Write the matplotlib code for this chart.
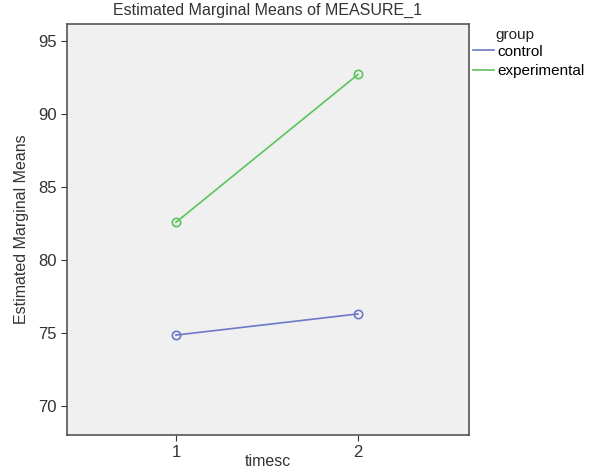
import matplotlib
matplotlib.use("Agg")
import matplotlib.pyplot as plt

plt.rcParams['font.family'] = ['Liberation Sans', 'DejaVu Sans']

times = [1, 2]
groups = ["control", "experimental"]
control = [74.85, 76.3]
experimental = [82.58, 92.72]
colors = ["#6b79c8", "#5cc45c"]
yticks = [70, 75, 80, 85, 90, 95]

fig = plt.figure(figsize=(5.97, 4.74), dpi=100)
ax = fig.add_axes([0.1117, 0.0823, 0.6739, 0.8677])
ax.set_facecolor("#f0f0f0")
for vals, c, name in zip([control, experimental], colors, groups):
    ax.plot(times, vals, color=c, lw=1.2, marker='o', markersize=6,
            markerfacecolor='none', markeredgecolor=c, markeredgewidth=1.2, label=name)
ax.set_xlim(0.40, 2.61)
ax.set_ylim(68.0, 96.2)
ax.set_xticks(times)
ax.set_yticks(yticks)
ax.tick_params(labelsize=12, colors="#333333", length=4, direction='out', pad=3)
for s in ax.spines.values():
    s.set_color("#555555")
    s.set_linewidth(1.2)
fig.text(0.4489, 0.026, "timesc", ha='center', va='center', fontsize=11.5, color="#333333")
ax.set_ylabel("Estimated Marginal Means", fontsize=11.5, color="#333333", labelpad=7)
fig.text(0.4489, 0.978, "Estimated Marginal Means of MEASURE_1", ha='center', va='center',
         fontsize=11.5, color="#333333")
fig.text(0.829, 0.926, "group", ha='left', va='center', fontsize=11, color="#222222")
leg = fig.legend(loc='upper left', bbox_to_anchor=(0.777, 0.925), frameon=False,
                 fontsize=11, handlelength=1.4,
                 handletextpad=0.2, labelspacing=0.35, borderaxespad=0.2)
for h in leg.legend_handles:
    h.set_marker("")
plt.savefig("out.png", dpi=100)
